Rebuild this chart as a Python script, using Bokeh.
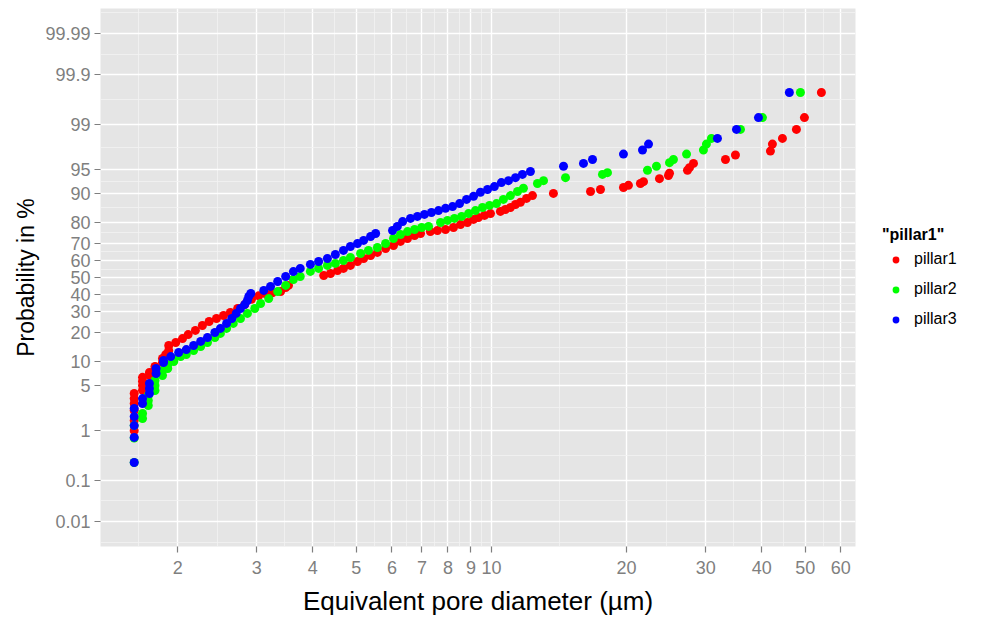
from statistics import NormalDist
from bokeh.plotting import figure
from bokeh.models import Range1d, FixedTicker, Legend, LegendItem, ColumnDataSource
from bokeh.embed import file_html
from bokeh.resources import INLINE

# ---------------- data ----------------
pillar1_d = [1.60, 1.60, 1.60, 1.60, 1.60, 1.60,
             1.67, 1.67, 1.67, 1.67, 1.73, 1.73, 1.78, 1.78, 1.85, 1.85, 1.88, 1.91, 1.91,
             1.98, 2.05, 2.11, 2.19, 2.27, 2.35, 2.44, 2.53, 2.62, 2.72, 2.82, 2.92, 3.03,
             3.14, 3.25, 3.39, 3.48, 3.53,
             4.23, 4.38, 4.54, 4.68, 4.85, 5.03, 5.19, 5.38, 5.57, 5.81, 6.05, 6.27, 6.50,
             6.74, 6.95, 7.31, 7.58, 7.90, 8.23, 8.53, 8.84, 9.12, 9.35, 9.65, 9.95, 10.47,
             10.74, 11.02, 11.31, 11.60, 11.97, 12.34, 13.74, 16.62, 17.49, 19.68, 20.19,
             21.47, 21.81, 23.67, 24.79, 24.92, 27.33, 27.61, 28.18, 33.21, 34.95, 41.82,
             42.25, 44.48, 47.79, 49.79, 54.32]
pillar1_p = [0.98, 1.46, 2.13, 2.74, 3.25, 3.85,
             4.3, 5.0, 5.7, 6.4, 6.8, 7.4, 8.05, 8.74, 9.75, 10.84, 12.0, 13.3, 15.0,
             16.1, 17.6, 19.2, 21.0, 23.2, 25.1, 26.6, 28.1, 29.7, 31.8, 34.0, 37.0, 39.0,
             40.2, 40.8, 41.5, 43.9, 45.2,
             51.2, 52.4, 54.2, 55.5, 57.3, 59.6, 61.4, 63.1, 64.9, 67.1, 68.7, 70.9, 72.4,
             73.9, 74.9, 75.8, 76.3, 76.8, 77.7, 79.0, 79.9, 81.2, 82.0, 82.8, 83.5, 84.3,
             85.0, 85.7, 86.7, 87.4, 88.6, 89.4, 90.0, 90.5, 91.0, 91.5, 92.0,
             92.4, 92.8, 93.4, 94.0, 94.4, 94.9, 95.3, 95.9, 96.4, 96.9, 97.3,
             97.9, 98.3, 98.8, 99.26, 99.76]

pillar2_d = [1.60, 1.60, 1.60, 1.67, 1.67, 1.72, 1.72, 1.72, 1.78, 1.78, 1.78, 1.85, 1.85,
             1.90, 1.90, 1.96, 1.96, 2.03, 2.09, 2.17, 2.25, 2.33, 2.42, 2.49, 2.57, 2.66,
             2.76, 2.86, 2.97, 3.06, 3.19, 3.34, 3.48, 3.62, 3.75, 3.95, 4.12, 4.31, 4.49,
             4.68, 4.85, 5.11, 5.32, 5.57, 5.81, 6.05, 6.27, 6.50, 6.74, 6.99, 7.24, 7.70,
             7.98, 8.27, 8.58, 8.89, 9.21, 9.55, 9.90, 10.26, 10.63, 11.02, 11.43, 11.78,
             12.66, 13.06, 14.62, 17.67, 18.13, 22.26, 23.31, 24.92, 25.43, 27.20, 29.66,
             30.12, 30.90, 35.86, 40.14, 48.78]
pillar2_p = [0.24, 0.72, 1.2, 1.58, 1.91, 2.55, 3.04, 3.60, 4.25, 4.99, 5.82, 6.76, 7.81,
             8.27, 9.24, 10.0, 10.8, 11.4, 12.0, 13.3, 14.65, 16.1, 18.0, 19.7, 21.9, 24.2,
             26.6, 29.2, 31.8, 34.6, 37.4, 41.5, 45.2, 48.8, 50.6, 53.7, 55.5, 57.3, 58.5,
             60.2, 62.0, 64.3, 66.0, 67.6, 69.8, 72.4, 74.4, 75.8, 76.8, 77.7, 78.2, 79.9,
             80.8, 81.6, 82.4, 83.5, 84.6, 85.7, 86.4, 87.0, 88.3, 89.4, 90.5, 91.3,
             92.4, 93.0, 93.6, 94.2, 94.5, 94.9, 95.5, 96.0, 96.4, 97.0, 97.4,
             97.9, 98.3, 98.8, 99.26, 99.76]

pillar3_d = [1.60, 1.60, 1.60, 1.60, 1.60, 1.67, 1.67, 1.73, 1.73, 1.73, 1.79, 1.79,
             1.86, 1.86, 1.93, 2.01, 2.09, 2.17, 2.25, 2.33, 2.42, 2.49, 2.57, 2.64, 2.70,
             2.76, 2.82, 2.86, 2.88, 2.91, 3.11, 3.22, 3.34, 3.48, 3.62, 3.75, 3.95, 4.12,
             4.31, 4.49, 4.68, 4.85, 5.03, 5.19, 5.38, 5.52,
             6.02, 6.17, 6.34, 6.60, 6.84, 7.09, 7.35, 7.62, 7.90, 8.19, 8.49, 8.80, 9.12,
             9.45, 9.80, 10.15, 10.52, 10.91, 11.31, 11.72, 12.21, 14.47, 16.03, 16.79,
             19.68, 21.70, 22.38, 31.87, 35.14, 39.33, 46.09]
pillar3_p = [0.24, 0.74, 1.20, 1.70, 2.29, 2.74, 3.25, 3.85, 4.53, 5.30, 7.17, 8.27,
             9.75, 10.29, 11.4, 12.65, 13.6, 15.0, 16.5, 18.0, 20.1, 21.9, 24.2, 26.6, 29.2,
             31.8, 34.0, 36.3, 38.6, 40.4, 42.2, 44.6, 47.6, 50.6, 53.6, 55.5, 57.9, 59.6,
             61.4, 63.7, 66.0, 68.2, 69.8, 71.4, 73.4, 74.9,
             76.3, 78.2, 80.3, 81.6, 82.4, 83.2, 83.9, 84.6, 85.4, 86.0, 87.0, 88.3, 89.2,
             90.3, 91.0, 91.7, 92.6, 93.0, 93.6, 94.2, 94.7, 95.5, 95.9, 96.4,
             97.0, 97.4, 97.9, 98.3, 98.8, 99.26, 99.76]

series_names = ["pillar1", "pillar2", "pillar3"]
series_colors = ["#FF0000", "#00FF00", "#0000FF"]

y_tick_pct = [0.01, 0.1, 1, 5, 10, 20, 30, 40, 50, 60, 70, 80, 90, 95, 99, 99.9, 99.99]
y_tick_labels = ["0.01", "0.1", "1", "5", "10", "20", "30", "40", "50", "60", "70",
                 "80", "90", "95", "99", "99.9", "99.99"]
x_ticks = [2, 3, 4, 5, 6, 7, 8, 9, 10, 20, 30, 40, 50, 60]
x_tick_labels = ["2", "3", "4", "5", "6", "7", "8", "9", "10", "20", "30", "40", "50", "60"]

# ---------------- probit scale ----------------
nd = NormalDist()
def probit(vals):
    return [nd.inv_cdf(v / 100.0) for v in vals]

y_major = probit(y_tick_pct)
y_minor = [(a + b) / 2 for a, b in zip(y_major[:-1], y_major[1:])]
y_minor = [y_major[0] - (y_major[1] - y_major[0]) / 2] + y_minor + \
          [y_major[-1] + (y_major[-1] - y_major[-2]) / 2]
x_minor = [(a * b) ** 0.5 for a, b in zip(x_ticks[:-1], x_ticks[1:])]
x_minor = [x_ticks[0] / (x_ticks[1] / x_ticks[0]) ** 0.5] + x_minor

FONT = "Liberation Sans"

p = figure(x_axis_type="log", x_range=Range1d(1.346, 64.7), y_range=Range1d(-4.1, 4.1),
           frame_width=755, frame_height=538,
           min_border_left=100, min_border_right=119, min_border_top=8, min_border_bottom=66,
           output_backend="svg", toolbar_location=None,
           background_fill_color="#E5E5E5", border_fill_color="white",
           outline_line_color=None)

xt = FixedTicker(ticks=x_ticks, minor_ticks=x_minor)
yt = FixedTicker(ticks=y_major, minor_ticks=y_minor)
p.xaxis.ticker = xt
p.yaxis.ticker = yt
p.xgrid.ticker = xt
p.ygrid.ticker = yt
p.xaxis.major_label_overrides = {float(t): l for t, l in zip(x_ticks, x_tick_labels)}
p.yaxis.major_label_overrides = {t: l for t, l in zip(y_major, y_tick_labels)}

for g in (p.xgrid, p.ygrid):
    g.grid_line_color = "white"
    g.grid_line_width = 1.4
    g.minor_grid_line_color = "#F3F3F3"
    g.minor_grid_line_width = 0.8

for ax in (p.xaxis, p.yaxis):
    ax.axis_line_color = None
    ax.major_tick_line_color = "#7F7F7F"
    ax.major_tick_line_width = 1.2
    ax.major_tick_out = 6
    ax.major_tick_in = 0
    ax.minor_tick_line_color = None
    ax.major_label_text_color = "#7F7F7F"
    ax.major_label_text_font = FONT
    ax.major_label_text_font_size = "18px"
    ax.axis_label_text_font = FONT
    ax.axis_label_text_font_style = "normal"
    ax.axis_label_text_color = "black"

p.xaxis.axis_label = "Equivalent pore diameter (µm)"
p.xaxis.axis_label_text_font_size = "26px"
p.xaxis.major_label_standoff = 8
p.xaxis.axis_label_standoff = 9
p.yaxis.axis_label = "Probability in %"
p.yaxis.axis_label_text_font_size = "23px"
p.yaxis.major_label_standoff = 4
p.yaxis.axis_label_standoff = 3

renderers = []
for d, pc, name, col in zip([pillar1_d, pillar2_d, pillar3_d],
                            [pillar1_p, pillar2_p, pillar3_p],
                            series_names, series_colors):
    src = ColumnDataSource(dict(x=d, y=probit(pc)))
    r = p.scatter("x", "y", source=src, size=9, fill_color=col, line_color=None)
    renderers.append(r)

legend = Legend(items=[LegendItem(label=n, renderers=[r]) for n, r in zip(series_names, renderers)],
                title='"pillar1"', location="center_left", orientation="vertical")
legend.title_text_font = FONT
legend.title_text_font_style = "bold"
legend.title_text_font_size = "16px"
legend.title_text_color = "black"
legend.title_standoff = 6
legend.label_text_font = FONT
legend.label_text_font_size = "16px"
legend.label_text_color = "black"
legend.label_standoff = 5
legend.label_height = 17
legend.glyph_width = 27
legend.glyph_height = 17
legend.spacing = 12
legend.padding = 0
legend.margin = 27
legend.border_line_color = None
legend.background_fill_color = "white"
p.add_layout(legend, "right")

open("out.html", "w").write(file_html(p, INLINE))
